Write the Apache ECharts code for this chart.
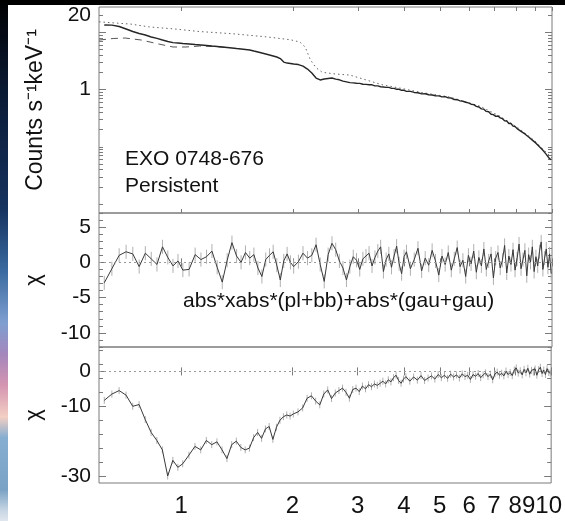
<!DOCTYPE html>
<html><head><meta charset="utf-8">
<script src="https://cdn.jsdelivr.net/npm/echarts@6/dist/echarts.min.js"></script>
<style>html,body{margin:0;padding:0;background:#000;}#c{width:565px;height:521px;}</style>
</head><body><div id="c"></div>
<script>
// ---------------- data ----------------
const ENERGY = [0.62,0.65,0.68,0.71,0.74,0.77,0.80,0.83,0.86,0.89,0.92,0.95,0.98,
1.01,1.05,1.09,1.13,1.17,1.21,1.25,1.29,1.33,1.37,1.41,1.45,1.49,1.53,1.57,1.61,1.65,1.69,1.73,1.77,1.81,1.85,1.89,1.93,1.97,
2.01,2.07,2.13,2.19,2.25,2.31,2.37,2.43,2.49,2.55,2.61,2.67,2.73,2.79,2.85,2.91,2.97,3.03,3.09,3.15,3.21,3.27,3.33,3.39,3.45,3.51,3.57,3.63,3.69,3.75,3.81,3.87,3.93,3.99,
4.05,4.15,4.25,4.35,4.45,4.55,4.65,4.75,4.85,4.95,5.05,5.15,5.25,5.35,5.45,5.55,5.65,5.75,5.85,5.95,6.05,6.15,6.25,6.35,6.45,6.55,6.65,6.75,6.85,6.95,7.05,7.15,7.25,7.35,7.45,7.55,7.65,7.75,7.85,7.95,8.05,8.15,8.25,8.35,8.45,8.55,8.65,8.75,8.85,8.95,9.05,9.15,9.25,9.35,9.45,9.55,9.65,9.75,9.85,9.95];

const COUNTS = [13.4,13.3,12.6,11.4,10.3,9.5,8.95,8.26,7.8,7.32,6.9,6.6,6.49,
6.36,6.23,6.1,5.99,5.87,5.75,5.64,5.53,5.42,5.31,5.2,5.1,5.0,4.9,4.7,4.52,4.34,4.17,4.01,3.85,3.7,3.48,3.02,2.9,2.85,
2.79,2.73,2.57,2.28,1.94,1.59,1.47,1.53,1.56,1.59,1.52,1.48,1.40,1.36,1.32,1.31,1.29,1.28,1.24,1.23,1.21,1.21,1.16,1.16,1.12,1.11,1.09,1.09,1.05,1.05,1.01,1.01,0.97,0.97,
0.93,0.93,0.89,0.88,0.84,0.845,0.81,0.805,0.78,0.775,0.745,0.75,0.715,0.71,0.67,0.665,0.635,0.625,0.6,0.585,0.555,0.545,0.51,0.495,0.46,0.455,0.415,0.41,0.37,0.365,0.34,0.345,0.32,0.31,0.285,0.283,0.255,0.256,0.23,0.226,0.208,0.209,0.186,0.186,0.168,0.165,0.148,0.151,0.131,0.13,0.116,0.121,0.1,0.103,0.087,0.089,0.074,0.075,0.062,0.06];

const MODEL_E = [0.6,0.73,0.82,0.96,1.12,1.38,1.70,1.97,2.09,2.16,2.23,2.31,2.40,2.60,2.85,3.50,3.89,4.40,5.30,6.38,7.23,8.19,9.0,10];
const MODEL_COUNTS = [15.2,13.9,12.4,11.4,10.3,9.4,8.3,7.4,6.75,5.5,3.3,2.4,2.0,1.87,1.79,1.2,1.06,0.9,0.74,0.515,0.344,0.204,0.126,0.064];

const ALT_E = [0.6,0.655,0.706,0.78,0.87,0.95,1.03,1.12,1.23,1.35];
const ALT_COUNTS = [7.3,7.78,7.93,7.32,6.23,5.53,5.53,5.75,5.64,5.35];

const RESID_1 = [-2.9,-0.9,1.0,1.5,1.2,-0.6,1.3,0.5,-0.3,2.2,0.7,-0.5,0.2,
-1.1,-1.0,1.1,0.4,0.8,1.6,-0.7,-2.8,0.3,2.8,0.9,0.0,1.4,0.6,1.1,-0.8,-2.0,0.4,1.0,1.5,-0.4,-2.5,0.2,1.2,0.0,
-0.6,0.1,1.3,0.6,1.0,2.5,-0.3,-2.7,1.1,2.7,1.8,0.2,-0.8,-2.5,-0.6,0.8,0.3,-1.0,0.5,0.9,1.3,-0.5,0.7,1.6,2.2,-1.3,0.4,1.2,-0.7,0.9,2.3,-0.2,-1.6,0.8,
1.5,-0.9,0.4,2.0,-1.2,0.6,-0.4,1.7,0.2,-1.8,0.9,-0.3,1.4,-1.1,0.5,2.1,-0.6,0.3,-2.0,1.0,-0.2,1.6,-1.4,0.7,-0.5,1.9,-1.0,0.2,1.2,-2.2,0.6,1.4,-0.8,0.3,2.4,-1.5,0.9,-0.3,1.8,-1.1,0.5,2.6,-0.9,0.4,1.7,-1.9,1.1,0.0,2.2,-1.3,0.8,-0.5,1.5,2.9,-1.0,0.6,1.9,-0.7,1.2,-1.6];

const RESID_2 = [-8.3,-6.5,-5.5,-6.8,-10.0,-9.5,-13.8,-17.5,-19.8,-22.5,-30.0,-25.5,-27.5,
-26.5,-24.0,-21.5,-22.5,-19.8,-21.0,-20.2,-22.5,-25.0,-21.0,-20.0,-21.8,-22.5,-22.0,-19.0,-17.5,-19.2,-16.5,-15.8,-19.5,-16.0,-14.0,-13.0,-12.5,-12.8,
-12.2,-11.6,-10.5,-7.7,-7.0,-8.5,-9.6,-6.5,-5.3,-7.8,-6.2,-5.5,-4.8,-6.0,-7.7,-5.2,-4.8,-5.8,-4.2,-5.0,-3.8,-4.4,-3.6,-4.0,-3.4,-2.8,-3.6,-2.4,-3.0,-1.8,-1.1,-2.6,-3.4,-2.2,
-1.5,-2.8,-1.6,-2.5,-1.2,-2.6,-1.9,-1.3,-2.2,-0.9,-1.8,-1.1,-2.0,-0.8,-1.6,-1.0,-1.9,-0.7,-1.5,-1.1,-2.3,-0.9,-1.4,-0.6,-1.8,-1.0,-0.4,-1.5,-0.8,-2.4,-0.7,-0.2,-1.1,-0.5,-1.3,0.1,-0.9,-0.3,-1.2,0.4,1.0,-0.5,0.2,-1.0,0.6,-0.4,0.9,-0.8,0.3,-0.2,0.7,-1.1,0.5,1.2,-0.6,0.4,-0.9,0.8,-0.3,-0.5];

const CHI_ERR = [1];

// axis ticks & labels
const X_TICKS = [1,2,3,4,5,6,7,8,9,10];
const TOP_LABELS = [1,20];
const TOP_MAJOR = [1,10];
const TOP_MINOR = [0.01,0.02,0.03,0.04,0.05,0.06,0.07,0.08,0.09,0.1,0.2,0.3,0.4,0.5,0.6,0.7,0.8,0.9,2,3,4,5,6,7,8,9,20];
const MID_LABELS = [-10,-5,0,5];
const MID_MINOR = [-12,-11,-9,-8,-7,-6,-4,-3,-2,-1,1,2,3,4,6,7];
const BOT_LABELS = [-30,-10,0];
const BOT_MAJOR = [-30,-10,0];
const BOT_MINOR = [-26,-22,-18,-14,-6,-2,2,6];

// ---------------- chart ----------------
const FONT = '"Liberation Sans", Arial, Helvetica, sans-serif';
const GRID_L = 99, GRID_W = 453;
const frame = '#7a7a7a';
const chart = echarts.init(document.getElementById('c'), null, {renderer:'canvas'});

function pairs(xs, ys){ return xs.map((x,i)=>[x, ys[i]]); }

function xAx(grid, pos, labels){
  return {type:'log', logBase:10, gridIndex:grid, position:pos, min:0.6, max:10,
    axisLine:{show:false}, splitLine:{show:false},
    axisTick:{show:true, inside:true, length:4, lineStyle:{color:frame}, customValues:X_TICKS},
    axisLabel:{show:!!labels, customValues:X_TICKS, margin:11, color:'#111', fontSize:24, fontFamily:FONT,
      formatter:v=>{ if(v===9) return '{a|9}'; if(v===10) return '{b|10}'; return String(v); },
      rich:{a:{fontSize:24,fontFamily:FONT,color:'#111',padding:[0,11,0,0]}, b:{fontSize:24,fontFamily:FONT,color:'#111',padding:[0,5,0,0]}}}};
}
function yAx(grid, type, min, max, pos, ticks, len, labels){
  const o = {type:type, gridIndex:grid, position:pos, min:min, max:max,
    axisLine:{show:false}, splitLine:{show:false},
    axisTick:{show:true, inside:true, length:len, lineStyle:{color:frame}, customValues:ticks},
    axisLabel:{show:!!labels, color:'#111', fontSize:21, fontFamily:FONT, margin:8}};
  if(type==='log') o.logBase = 10;
  if(labels) o.axisLabel.customValues = labels;
  return o;
}

const grids = [
  {left:GRID_L, top:7, width:GRID_W, height:206},
  {left:GRID_L, top:213, width:GRID_W, height:134},
  {left:GRID_L, top:347, width:GRID_W, height:136}
].map(g=>Object.assign(g,{show:true, borderColor:frame, borderWidth:1, backgroundColor:'transparent', containLabel:false}));

const xAxes = [xAx(0,'bottom'), xAx(0,'top'), xAx(1,'bottom'), xAx(1,'top'), xAx(2,'bottom',true), xAx(2,'top')];
const TOPMIN = 0.007, TOPMAX = 27.6;
const yAxes = [
  yAx(0,'log',TOPMIN,TOPMAX,'left',TOP_MAJOR,7,TOP_LABELS), yAx(0,'log',TOPMIN,TOPMAX,'left',TOP_MINOR,4),
  yAx(0,'log',TOPMIN,TOPMAX,'right',TOP_MAJOR,7), yAx(0,'log',TOPMIN,TOPMAX,'right',TOP_MINOR,4),
  yAx(1,'value',-12,7,'left',MID_LABELS,7,MID_LABELS), yAx(1,'value',-12,7,'left',MID_MINOR,4),
  yAx(1,'value',-12,7,'right',MID_LABELS,7), yAx(1,'value',-12,7,'right',MID_MINOR,4),
  yAx(2,'value',-32,7,'left',BOT_MAJOR,7,BOT_LABELS), yAx(2,'value',-32,7,'left',BOT_MINOR,4),
  yAx(2,'value',-32,7,'right',BOT_MAJOR,7), yAx(2,'value',-32,7,'right',BOT_MINOR,4)
];

function errSeries(xi, yi, vals){
  return {type:'custom', xAxisIndex:xi, yAxisIndex:yi, silent:true, z:1,
    data: pairs(ENERGY, vals),
    renderItem:(params, api)=>{
      const x = api.value(0), y = api.value(1);
      const p1 = api.coord([x, y + CHI_ERR[0]]), p2 = api.coord([x, y - CHI_ERR[0]]);
      return {type:'line', shape:{x1:p1[0], y1:p1[1], x2:p2[0], y2:p2[1]}, style:{stroke:'#b0b0b0', lineWidth:1}};
    }};
}
function zeroLine(){
  return {silent:true, symbol:'none', label:{show:false}, lineStyle:{type:[2,3], color:'#9a9a9a', width:1}, data:[{yAxis:0}]};
}

const series = [
  {type:'line', xAxisIndex:0, yAxisIndex:0, data:pairs(MODEL_E, MODEL_COUNTS), showSymbol:false, symbol:'none',
    lineStyle:{color:'#666', width:1, type:[1.5,3]}, z:2},
  {type:'line', xAxisIndex:0, yAxisIndex:0, data:pairs(ALT_E, ALT_COUNTS), showSymbol:false, symbol:'none',
    lineStyle:{color:'#555', width:1, type:[7,5]}, z:2},
  {type:'line', xAxisIndex:0, yAxisIndex:0, data:pairs(ENERGY, COUNTS), showSymbol:false, symbol:'none',
    lineStyle:{color:'#262626', width:1.4}, z:3},
  errSeries(2, 4, RESID_1),
  {type:'line', xAxisIndex:2, yAxisIndex:4, data:pairs(ENERGY, RESID_1), showSymbol:false, symbol:'none',
    lineStyle:{color:'#3a3a3a', width:1}, z:3, markLine:zeroLine()},
  errSeries(4, 8, RESID_2),
  {type:'line', xAxisIndex:4, yAxisIndex:8, data:pairs(ENERGY, RESID_2), showSymbol:false, symbol:'none',
    lineStyle:{color:'#3a3a3a', width:1}, z:3, markLine:zeroLine()}
];

const graphic = [
  {type:'rect', z:-10, shape:{x:0, y:0, width:8, height:521},
    style:{fill:new echarts.graphic.LinearGradient(0,0,0,1,[
      {offset:0, color:'#000000'},{offset:0.06, color:'#050a14'},{offset:0.2, color:'#0c1d3a'},
      {offset:0.4, color:'#16325e'},{offset:0.52, color:'#3a6aa0'},{offset:0.62, color:'#7f9fd0'},
      {offset:0.68, color:'#a487bc'},{offset:0.74, color:'#d495b0'},{offset:0.8, color:'#f3cfc4'},
      {offset:0.84, color:'#86aed0'},{offset:0.94, color:'#7aa2c4'},{offset:0.98, color:'#c8d6e4'},{offset:1, color:'#e0e6ee'}])}},
  {type:'rect', z:-10, shape:{x:8, y:5, width:557, height:516}, style:{fill:'#ffffff'}},
  {type:'text', x:36, y:110, rotation:Math.PI/2, style:{text:'Counts s\u207B\u00B9keV\u207B\u00B9', align:'center', verticalAlign:'middle', fontSize:23, fontFamily:FONT, fill:'#111'}},
  {type:'text', x:34, y:280, rotation:Math.PI/2, style:{text:'\u03C7', align:'center', verticalAlign:'middle', fontSize:22, fontFamily:FONT, fill:'#111'}},
  {type:'text', x:34, y:415, rotation:Math.PI/2, style:{text:'\u03C7', align:'center', verticalAlign:'middle', fontSize:22, fontFamily:FONT, fill:'#111'}},
  {type:'text', x:125, y:159, style:{text:'EXO 0748-676', verticalAlign:'middle', fontSize:21, fontFamily:FONT, fill:'#111'}},
  {type:'text', x:125, y:186, style:{text:'Persistent', verticalAlign:'middle', fontSize:21, fontFamily:FONT, fill:'#111'}},
  {type:'text', x:183, y:301, style:{text:'abs*xabs*(pl+bb)+abs*(gau+gau)', verticalAlign:'middle', fontSize:21, fontFamily:FONT, fill:'#111'}}
];

chart.setOption({animation:false, backgroundColor:'#000', grid:grids, xAxis:xAxes, yAxis:yAxes, series:series, graphic:graphic});
</script></body></html>
